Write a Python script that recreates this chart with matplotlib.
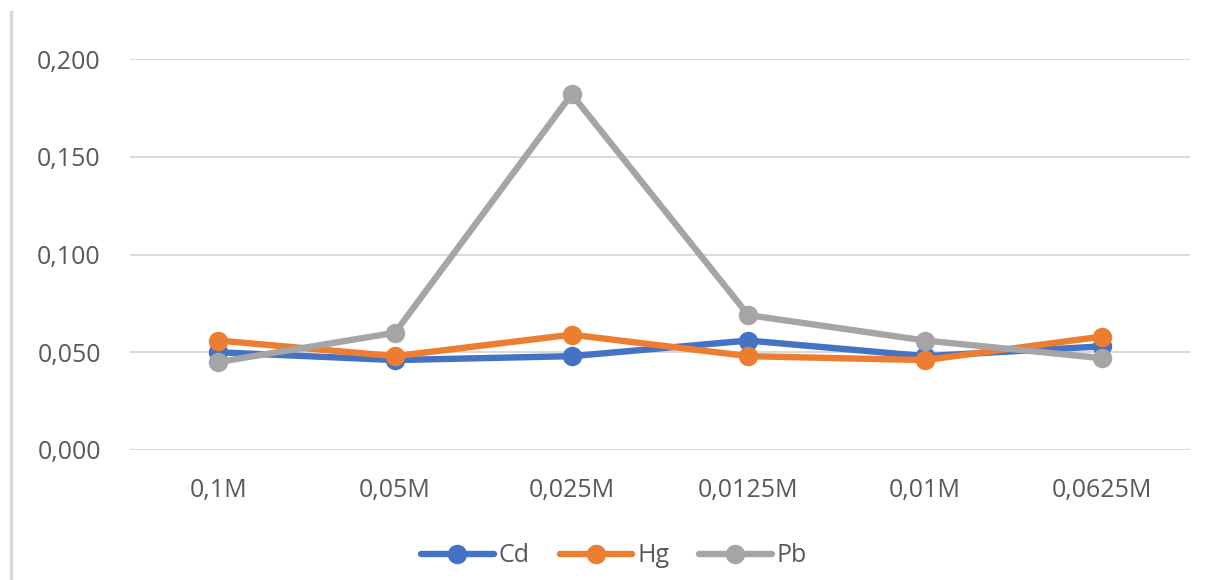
import matplotlib
matplotlib.use("Agg")
import matplotlib.pyplot as plt
from matplotlib.ticker import FuncFormatter
from matplotlib.lines import Line2D

categories = ["0,1M", "0,05M", "0,025M", "0,0125M", "0,01M", "0,0625M"]
cd = [0.050, 0.046, 0.048, 0.056, 0.048, 0.053]
hg = [0.056, 0.048, 0.059, 0.048, 0.046, 0.058]
pb = [0.045, 0.060, 0.182, 0.069, 0.056, 0.047]

series = [("Cd", cd, "#4472C4"), ("Hg", hg, "#ED7D31"), ("Pb", pb, "#A5A5A5")]

plt.rcParams['font.family'] = ['Open Sans', 'DejaVu Sans']

fig = plt.figure(figsize=(12.19, 5.8), dpi=100)
ax = fig.add_axes([130 / 1219, 1 - 450 / 580, 1060 / 1219, 391 / 580])

x = list(range(len(categories)))
handles = []
for name, vals, color in series:
    ln, = ax.plot(x, vals, color=color, linewidth=4.6, marker="o",
                  markersize=13, solid_capstyle="round", solid_joinstyle="round",
                  label=name, zorder=3)
    handles.append(ln)

ax.set_xlim(-0.5, len(categories) - 0.5)
ax.set_ylim(0, 0.2)
ax.set_yticks([0, 0.05, 0.1, 0.15, 0.2])
ax.yaxis.set_major_formatter(FuncFormatter(lambda v, p: f"{v:.3f}".replace(".", ",")))
ax.set_xticks(x)
ax.set_xticklabels(categories)
ax.grid(axis="y", color="#D9D9D9", linewidth=1.4)
ax.set_axisbelow(True)
for s in ax.spines.values():
    s.set_visible(False)
ax.tick_params(axis="both", length=0, labelsize=18, colors="#595959")
ax.tick_params(axis="y", pad=21)
ax.tick_params(axis="x", pad=20)

fig.legend(handles=handles, loc="center", bbox_to_anchor=(614 / 1219, 1 - 556 / 580),
           ncol=3, frameon=False, fontsize=18, labelcolor="#595959",
           handlelength=2.9, handletextpad=0.2, columnspacing=1.2)

# left border line of the chart area
fig.add_artist(Line2D([11 / 1219, 11 / 1219], [0, 1 - 12 / 580],
                      transform=fig.transFigure, color="#D9D9D9", linewidth=2.5))

fig.savefig("out.png", dpi=100, facecolor="white")
